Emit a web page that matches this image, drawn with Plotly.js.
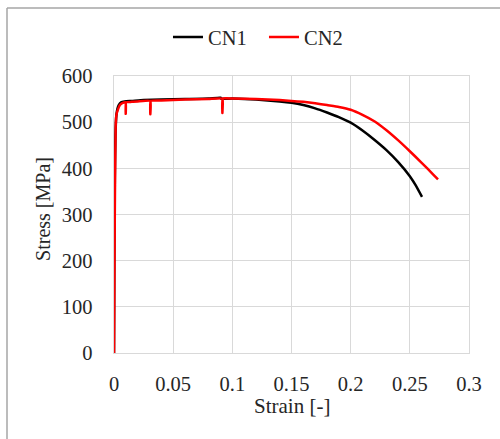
<!DOCTYPE html>
<html>
<head>
<meta charset="utf-8">
<script src="https://cdn.plot.ly/plotly-3.0.1.min.js"></script>
<style>
html,body{margin:0;padding:0;background:#fff;}
#chart{width:500px;height:439px;}
</style>
</head>
<body>
<div id="chart"></div>
<script>
// CN1 (black)
const cn1Strain = [0, 0.0003, 0.0007, 0.0012, 0.002, 0.003, 0.004, 0.006, 0.009, 0.015, 0.025, 0.04, 0.06, 0.08, 0.09, 0.0905, 0.1, 0.12, 0.13, 0.14, 0.15, 0.16, 0.17, 0.18, 0.19, 0.2, 0.21, 0.22, 0.23, 0.24, 0.25, 0.255, 0.2603];
const cn1Stress = [0, 210, 380, 470, 515, 530, 537, 543, 545, 546, 548, 549, 550, 551, 553, 551, 551, 549, 547, 545, 542, 537, 530, 521, 511, 499, 482, 462, 440, 414, 383, 363, 338];
// CN2 (red)
const cn2Strain = [0, 0.0004, 0.0009, 0.0014, 0.002, 0.003, 0.005, 0.007, 0.0099, 0.0099, 0.0102, 0.015, 0.02, 0.0307, 0.0307, 0.031, 0.04, 0.06, 0.08, 0.0916, 0.0916, 0.0919, 0.1, 0.12, 0.14, 0.15, 0.16, 0.17, 0.18, 0.19, 0.2, 0.21, 0.22, 0.23, 0.24, 0.25, 0.26, 0.27, 0.2738];
const cn2Stress = [0, 200, 380, 490, 515, 525, 537, 541, 543, 518, 543, 544, 545, 546, 517, 546, 547, 549, 550, 551, 520, 551, 551, 550, 548, 546, 544, 541, 537, 533, 527, 516, 502, 483, 461, 437, 412, 386, 376];
const seriesNames = ['CN1', 'CN2'];
const xTickVals = [0, 0.05, 0.1, 0.15, 0.2, 0.25, 0.3];
const xTickText = ['0', '0.05', '0.1', '0.15', '0.2', '0.25', '0.3'];
const yTickVals = [0, 100, 200, 300, 400, 500, 600];

const FONT = 'Liberation Serif';
const TXT = '#262626';

const traces = [
  {x: cn1Strain, y: cn1Stress, name: seriesNames[0], mode: 'lines', line: {color: '#000000', width: 2.5, shape: 'spline', smoothing: 0.4}},
  {x: cn2Strain, y: cn2Stress, name: seriesNames[1], mode: 'lines', line: {color: '#ff0000', width: 2.5, shape: 'spline', smoothing: 0.4}}
];

const layout = {
  width: 500, height: 439,
  margin: {l: 114, r: 31, t: 76, b: 86},
  paper_bgcolor: '#ffffff', plot_bgcolor: '#ffffff',
  font: {family: FONT, size: 20.5, color: TXT},
  showlegend: true,
  legend: {orientation: 'h', x: 0.4225, xanchor: 'center', y: 1.14, yanchor: 'middle',
           font: {family: FONT, size: 20.5, color: TXT}, itemwidth: 30, entrywidth: 51},
  xaxis: {range: [0, 0.3], tickvals: xTickVals, ticktext: xTickText,
          showgrid: true, gridcolor: '#d9d9d9', gridwidth: 1.3,
          showline: true, linecolor: '#d9d9d9', linewidth: 1.3, mirror: true,
          zeroline: false, ticks: 'outside', ticklen: 12, tickcolor: 'rgba(0,0,0,0)',
          tickfont: {family: FONT, size: 20.5, color: TXT}},
  yaxis: {range: [0, 600], tickvals: yTickVals,
          showgrid: true, gridcolor: '#d9d9d9', gridwidth: 1.3,
          showline: true, linecolor: '#d9d9d9', linewidth: 1.3, mirror: true,
          zeroline: false, ticks: 'outside', ticklen: 16, tickcolor: 'rgba(0,0,0,0)',
          tickfont: {family: FONT, size: 20.5, color: TXT}},
  shapes: [
    {type: 'line', xref: 'paper', yref: 'paper', x0: -0.3014, x1: -0.3014, y0: -0.5, y1: 1.2455, line: {color: '#a6a6a6', width: 1.5}},
    {type: 'line', xref: 'paper', yref: 'paper', x0: -0.3014, x1: 1.5, y0: 1.2455, y1: 1.2455, line: {color: '#a6a6a6', width: 1.5}}
  ],
  annotations: [
    {text: 'Strain [-]', xref: 'paper', yref: 'paper', x: 0.5, y: -0.192, xanchor: 'center', yanchor: 'middle',
     showarrow: false, font: {family: FONT, size: 21, color: TXT}},
    {text: 'Stress [MPa]', xref: 'paper', yref: 'paper', x: -0.198, y: 0.519, xanchor: 'center', yanchor: 'middle',
     textangle: -90, showarrow: false, font: {family: FONT, size: 20, color: TXT}}
  ]
};

Plotly.newPlot('chart', traces, layout, {displayModeBar: false, staticPlot: true});
</script>
</body>
</html>
